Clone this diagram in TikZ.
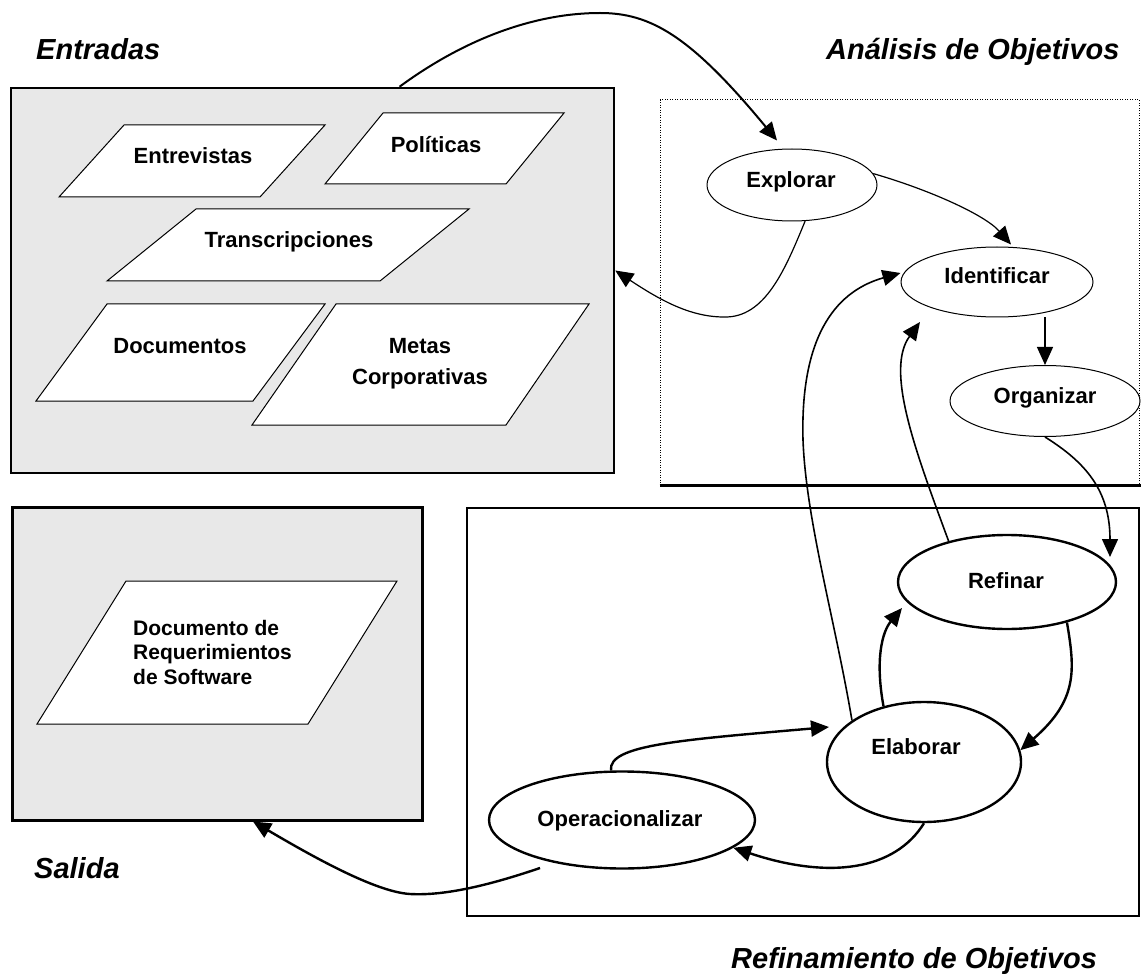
\documentclass[tikz,border=0pt]{standalone}
\usepackage{fontspec}
\setmainfont{Liberation Sans}
\usetikzlibrary{shapes.geometric,arrows.meta}
\definecolor{boxgray}{RGB}{232,232,232}
\begin{document}
\begin{tikzpicture}[x=1pt,y=-1pt,
  >={Triangle[length=18pt,width=16pt]},
  region/.style={draw, inner sep=0pt},
  grayregion/.style={region, fill=boxgray},
  para/.style={draw, fill=white, line width=1pt},
  lab/.style={font=\bfseries\fontsize{22}{26}\selectfont, inner sep=0pt},
  ttl/.style={font=\bfseries\itshape\fontsize{29}{34}\selectfont, inner sep=0pt},
  ell/.style={ellipse, draw, fill=white, inner sep=0pt, line width=1pt},
  bell/.style={ell, line width=2.4pt},
  thinconn/.style={->, line width=1.2pt},
  midconn/.style={->, line width=1.6pt},
  thickconn/.style={->, line width=2.4pt}
]
\useasboundingbox (0,0) rectangle (1141,976);

% ---------- region boxes ----------
\node[grayregion, line width=2.5pt, minimum width=603pt, minimum height=385pt] (entradas) at (312.5,280.5) {};
\node[grayregion, line width=3pt, minimum width=410pt, minimum height=313pt] (salida) at (217,663.5) {};
\node[region, line width=1pt, dash pattern=on 1pt off 1.5pt, minimum width=479pt, minimum height=385pt] (analisis) at (899.5,292.5) {};
\draw[line width=3pt] (analisis.south west) -- ([xshift=3pt]analisis.south east);
\node[region, line width=2.5pt, minimum width=672pt, minimum height=408pt] (refinamiento) at (803,712) {};

% ---------- titles ----------
\node[ttl, anchor=base west] (tEntradas) at (36,60) {Entradas};
\node[ttl, anchor=base west] (tAnalisis) at (826,60) {Análisis de Objetivos};
\node[ttl, anchor=base west] (tSalida) at (34,878) {Salida};
\node[ttl, anchor=base west] (tRefin) at (731,968) {Refinamiento de Objetivos};

% ---------- input parallelograms ----------
\draw[para] (124,125) -- (325,125) -- (260,197) -- (59,197) -- cycle;
\draw[para] (383,113) -- (564,113) -- (506,184) -- (325,184) -- cycle;
\draw[para] (196,209) -- (469,209) -- (380,281) -- (107,281) -- cycle;
\draw[para] (107,304) -- (325,304) -- (253,401) -- (36,401) -- cycle;
\draw[para] (336,304) -- (589,304) -- (506,425) -- (252,425) -- cycle;
\node[lab, anchor=base] (entrevistas) at (193,164) {Entrevistas};
\node[lab, anchor=base] (politicas) at (436,153) {Políticas};
\node[lab, anchor=base] (transcripciones) at (289,248) {Transcripciones};
\node[lab, anchor=base] (documentos) at (180,354) {Documentos};
\node[lab, anchor=north, align=center, font=\bfseries\fontsize{22}{31}\selectfont] (metas) at (420,338) {Metas\\Corporativas};

% ---------- output parallelogram ----------
\draw[para] (126,581) -- (397,581) -- (308,724) -- (37,724) -- cycle;
\node[lab, anchor=north west, align=left, font=\bfseries\fontsize{21}{24.5}\selectfont] (srs) at (133,620) {Documento de\\Requerimientos\\de Software};

% ---------- analysis ellipses ----------
\node[ell, minimum width=170pt, minimum height=72pt] (explorar) at (792,185) {};
\node[ell, minimum width=192pt, minimum height=70pt] (identificar) at (997,282) {};
\node[ell, minimum width=190pt, minimum height=71pt] (organizar) at (1045,401) {};
\node[lab, anchor=base] (tExplorar) at (791,188) {Explorar};
\node[lab, anchor=base] (tIdentificar) at (997,284) {Identificar};
\node[lab, anchor=base] (tOrganizar) at (1045,403) {Organizar};

% ---------- refinement ellipses ----------
\node[bell, minimum width=218pt, minimum height=94pt] (refinar) at (1007,582) {};
\node[bell, minimum width=194pt, minimum height=120pt] (elaborar) at (924,762) {};
\node[bell, minimum width=266pt, minimum height=97pt] (oper) at (622,820) {};
\node[lab, anchor=base] (tRefinar) at (1006,588) {Refinar};
\node[lab, anchor=base] (tElaborar) at (916,754) {Elaborar};
\node[lab, anchor=base] (tOper) at (620,826) {Operacionalizar};

% ---------- connectors ----------
\draw[->, line width=2pt] ([xshift=87pt]entradas.north) .. controls (470,35) and (540,13) .. (600,13)
   .. controls (650,13) and (690,35) .. ([xshift=-15pt,yshift=8pt]explorar.north);
\draw[thinconn] (explorar.8) .. controls (930,190) and (985,215) .. ([xshift=14pt,yshift=2pt]identificar.north);
\draw[thinconn] (explorar.-70) .. controls (785,270) and (765,318) .. (724,317)
   .. controls (690,317) and (660,300) .. ([yshift=10pt]entradas.east);
\draw[thinconn] (organizar.north |- identificar.south) -- (organizar.north);
\draw[midconn] (organizar.south) .. controls (1085,462) and (1110,490) .. ([xshift=103pt,yshift=25pt]refinar.center);
\draw[midconn] (elaborar.150) .. controls (835,620) and (806,520) .. (803,440)
   .. controls (800,330) and (840,290) .. ([yshift=9pt]identificar.west);
\draw[midconn] (refinar.145) .. controls (915,450) and (885,370) .. ([xshift=-77pt,yshift=-40pt]identificar.center);
\draw[thickconn] (elaborar.126) .. controls (875,660) and (882,632) .. ([xshift=-105pt,yshift=-26pt]refinar.center);
\draw[thickconn] (refinar.-34) .. controls (1075,670) and (1078,700) .. (elaborar.7);
\draw[thickconn] ([xshift=-11pt]oper.north) .. controls (608,745) and (680,740) .. ([xshift=-95pt,yshift=35pt]elaborar.center);
\draw[thickconn] (elaborar.south) .. controls (895,870) and (830,880) .. (oper.-14);
\draw[thickconn] ([xshift=-82pt,yshift=-48pt]oper.center) .. controls (490,885) and (445,896) .. (410,894)
   .. controls (375,892) and (310,855) .. ([xshift=36pt]salida.south);
\end{tikzpicture}
\end{document}
